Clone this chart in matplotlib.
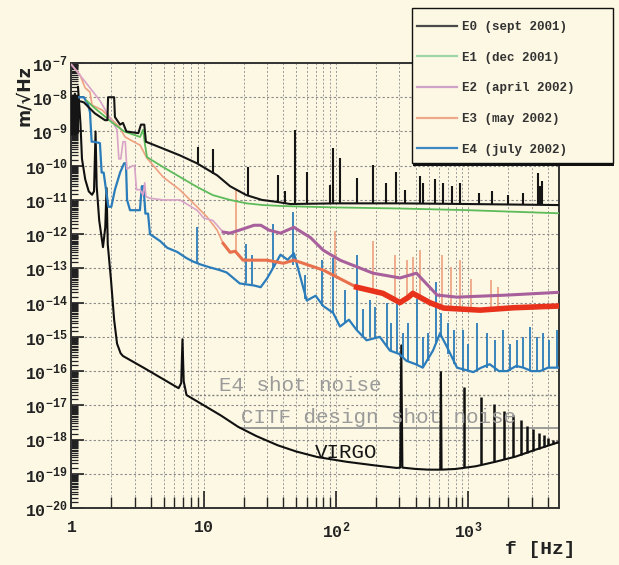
import numpy as np
import matplotlib
matplotlib.use("Agg")
import matplotlib.pyplot as plt
from matplotlib.lines import Line2D
from matplotlib.patches import Rectangle
from matplotlib.ticker import FixedLocator, FixedFormatter, NullFormatter, LogLocator

# ---------------- data (frequency in Hz, level as log10 of m/sqrt(Hz)) ----------------
e0_f = [1.0, 1.01, 1.02, 1.03, 1.04, 1.05, 1.06, 1.07, 1.08, 1.09,
        1.10, 1.11, 1.12, 1.24, 1.50, 1.79, 1.87, 1.89, 2.10, 2.13,
        2.33, 2.45, 2.6, 3.2, 3.35, 3.55, 3.65, 4.92, 6.61, 8.88,
        12.6, 15.8, 21, 27.5, 36, 45, 100, 300, 1000, 4800]
e0_v = [-8.0, -9.1, -7.95, -9.0, -8.0, -9.05, -7.9, -9.1, -8.05, -9.0,
        -7.95, -9.05, -8.1, -8.15, -8.47, -8.67, -8.67, -8.0, -8.0, -8.58,
        -8.8, -8.75, -9.0, -9.05, -8.8, -8.8, -9.3, -9.5, -9.7, -9.93,
        -10.28, -10.6, -10.86, -11.0, -11.06, -11.12, -11.1, -11.1, -11.12, -11.15]
e0_spk_f = [9.0, 11.7, 21.6, 36.3, 41, 49, 60, 90, 95, 107,
            143, 190, 239, 282, 330, 430, 452, 555, 640, 750,
            870, 1200, 1500, 2000, 2600, 3340, 3500, 3600]
e0_spk_lo = [-9.93, -10.25, -10.86, -11.06, -11.1, -11.1, -11.1, -11.1, -11.1, -11.1,
             -11.1, -11.1, -11.1, -11.1, -11.1, -11.1, -11.1, -11.1, -11.1, -11.1,
             -11.1, -11.12, -11.12, -11.13, -11.13, -11.14, -11.14, -11.14]
e0_spk_hi = [-9.46, -9.5, -10.04, -10.28, -10.75, -8.96, -10.19, -10.57, -9.49, -9.78,
             -10.36, -9.98, -10.5, -10.19, -10.7, -10.3, -10.5, -10.4, -10.5, -10.6,
             -10.5, -10.8, -10.75, -10.85, -10.8, -10.2, -10.6, -10.45]

e1_f = [1.3, 1.48, 2.0, 2.5, 3.3, 3.47, 3.6, 3.72, 4.92, 6.61,
        8.88, 11.7, 15.8, 21, 28, 40, 100, 300, 1000, 4800]
e1_v = [-8.1, -8.3, -8.72, -9.0, -9.16, -8.95, -9.4, -9.75, -10.04, -10.33,
        -10.62, -10.86, -11.0, -11.1, -11.15, -11.18, -11.22, -11.25, -11.3, -11.39]

e2_f = [1.0, 1.1, 1.27, 1.64, 1.95, 2.21, 2.28, 2.36, 2.45, 2.55,
        2.62, 2.9, 3.0, 3.1, 3.3, 3.47, 3.58, 3.65, 3.9, 4.92,
        6.61, 8.88, 10.0, 11.7, 14.0, 15.8, 18.7, 24, 27, 31,
        38, 48, 64, 80, 107, 190, 304, 405, 580, 820,
        1960, 4800]
e2_v = [-7.05, -7.25, -7.55, -8.1, -8.6, -8.95, -9.8, -9.8, -9.3, -9.3,
        -10.1, -10.0, -10.0, -10.7, -10.7, -10.86, -10.5, -10.9, -10.95, -11.0,
        -11.0, -11.3, -11.53, -11.6, -11.94, -11.97, -11.88, -11.74, -11.74, -11.88,
        -11.97, -11.8, -12.1, -12.47, -12.76, -13.14, -13.28, -13.14, -13.78, -13.84,
        -13.78, -13.7]

e3_f = [1.0, 1.16, 1.27, 1.38, 1.43, 1.7, 1.95, 2.3, 2.54, 2.95,
        3.3, 3.72, 4.92, 6.61, 8.88, 10.6, 12.6, 14.0, 15.8, 17.3,
        19.8, 30, 40, 48, 80, 143, 226, 304, 350, 380,
        510, 650, 1224, 2200, 4800]
e3_v = [-7.05, -7.35, -7.73, -7.85, -8.23, -8.37, -8.6, -8.87, -9.16, -9.3,
        -9.4, -9.78, -10.33, -10.71, -11.2, -11.5, -11.88, -12.27, -12.53, -12.5,
        -12.76, -12.76, -12.85, -12.76, -13.05, -13.55, -13.73, -14.0, -13.85, -13.73,
        -14.0, -14.16, -14.22, -14.15, -14.1]
e3_spk_f = [17.5, 98, 190, 278, 343, 380, 429, 630, 744, 870, 1055, 1490, 1680]
e3_spk_lo = [-12.5, -13.2, -13.65, -13.9, -13.85, -13.75, -13.9, -14.15, -14.18, -14.2, -14.2, -14.2, -14.2]
e3_spk_hi = [-10.7, -11.9, -12.2, -12.6, -12.76, -12.67, -12.47, -12.6, -12.97, -12.76, -13.3, -13.35, -13.55]

e4_f = [1.0, 1.1, 1.24, 1.33, 1.38, 1.42, 1.47, 1.64, 1.69, 1.75,
        1.9, 2.0, 2.13, 2.33, 2.5, 2.58, 2.63, 2.77, 3.29, 3.4,
        3.5, 3.62, 3.79, 3.92, 4.67, 5.3, 6.3, 7.4, 8.3, 9.35,
        11.1, 13.2, 14.9, 18.7, 24, 26.9, 30, 33.6, 38, 43,
        48, 55, 60, 70, 80, 95, 107, 125, 143, 170,
        214, 255, 300, 340, 400, 452, 540, 610, 690, 820,
        1090, 1250, 1450, 1700, 1960, 2300, 2600, 3000, 3490, 4000,
        4800]
e4_v = [-8.3, -8.0, -8.0, -8.2, -8.44, -9.3, -9.3, -9.34, -10.2, -10.2,
        -11.2, -11.2, -10.7, -10.2, -9.93, -9.93, -11.0, -11.3, -11.3, -10.6,
        -10.6, -11.4, -11.4, -12.0, -12.2, -12.4, -12.52, -12.7, -12.8, -12.88,
        -12.97, -13.05, -13.12, -13.44, -13.5, -13.55, -13.3, -12.97, -12.6, -12.75,
        -12.56, -13.4, -13.94, -13.8, -14.1, -14.3, -14.7, -14.5, -14.8, -15.1,
        -15.0, -15.4, -15.5, -15.7, -15.8, -15.9, -15.4, -14.9, -15.3, -15.9,
        -16.03, -15.9, -15.8, -16.0, -16.0, -15.85, -15.9, -16.0, -16.0, -15.9,
        -15.9]
e4_spk_f = [8.9, 21, 23, 33.6, 47.4, 58, 78.5, 95, 116, 143,
            160, 180, 196, 241, 260, 287, 320, 350, 410, 450,
            495, 570, 625, 700, 780, 910, 1000, 1160, 1380, 1600,
            1820, 2050, 2310, 2600, 2920, 3300, 3670, 4100, 4690]
e4_spk_lo = [-12.85, -13.44, -13.45, -13.0, -12.9, -13.9, -14.1, -14.3, -14.6, -14.8,
             -15.0, -15.0, -15.0, -15.3, -15.4, -15.45, -15.6, -15.7, -15.8, -15.9,
             -15.7, -15.2, -15.0, -15.5, -15.8, -16.0, -16.0, -16.0, -15.9, -16.0,
             -16.0, -16.0, -15.9, -15.9, -16.0, -16.0, -16.0, -15.9, -15.9]
e4_spk_hi = [-11.8, -12.3, -12.6, -11.7, -11.36, -13.2, -12.76, -12.7, -13.64, -12.6,
             -14.2, -13.93, -14.13, -14.0, -14.6, -13.9, -14.9, -14.6, -13.9, -15.0,
             -14.9, -13.4, -14.3, -14.6, -14.8, -14.8, -15.2, -14.6, -14.9, -15.1,
             -14.8, -15.2, -15.1, -15.0, -14.7, -15.0, -14.9, -15.1, -14.8]

virgo_f = [1.12, 1.17, 1.2, 1.27, 1.35, 1.43, 1.48, 1.52, 1.55, 1.62,
           1.73, 1.8, 1.84, 1.88, 1.99, 2.1, 2.21, 2.35, 2.45, 3.5,
           5.0, 6.45, 6.75, 6.9, 7.05, 7.4, 10, 13.5, 18.2, 25,
           36.3, 50, 72, 120, 200, 287, 305, 311, 317, 400,
           500, 613, 620, 627, 800, 1140, 1600, 2270, 3200, 4800]
virgo_v = [-7.7, -8.8, -9.8, -10.4, -10.75, -10.85, -10.75, -9.0, -10.6, -11.6,
           -12.38, -11.8, -10.65, -12.3, -13.35, -14.5, -15.2, -15.48, -15.56, -15.9,
           -16.25, -16.5, -16.35, -15.07, -16.3, -16.7, -17.0, -17.3, -17.63, -17.9,
           -18.17, -18.35, -18.51, -18.65, -18.76, -18.83, -18.82, -15.25, -18.82, -18.86,
           -18.88, -18.88, -16.03, -18.88, -18.86, -18.78, -18.65, -18.5, -18.3, -18.08]
virgo_spk_f = [930, 1240, 1550, 1860, 2170, 2480, 2790, 3100, 3410, 3720, 4030, 4340, 4650]
virgo_spk_lo = [-18.8, -18.72, -18.65, -18.58, -18.5, -18.45, -18.4, -18.33, -18.28, -18.22, -18.17, -18.13, -18.1]
virgo_spk_hi = [-16.46, -16.76, -16.97, -17.18, -17.29, -17.44, -17.6, -17.7, -17.8, -17.88, -17.95, -18.0, -18.05]

e4_shot_f = [8.0, 4800]
e4_shot_v = [-16.7, -16.7]
citf_shot_f = [18.8, 4800]
citf_shot_v = [-17.66, -17.66]

legend_labels = ["E0 (sept 2001)", "E1 (dec 2001)", "E2 (april 2002)",
                 "E3 (may 2002)", "E4 (july 2002)"]
y_exponents = list(range(-20, -6))
x_major = [1, 10, 100, 1000]
x_major_labels = ["1", "10", r"$10^{2}$", r"$10^{3}$"]

# ---------------- style ----------------
BG = "#fcf8e3"
MONO = "Liberation Mono"
plt.rcParams["mathtext.fontset"] = "custom"
plt.rcParams["mathtext.rm"] = MONO + ":bold"
plt.rcParams["mathtext.bf"] = MONO + ":bold"
plt.rcParams["mathtext.default"] = "bf"

C_E0 = "#151515"
C_E1 = "#5dbb5a"
C_E2_LO = "#d9a3c9"
C_E2 = "#a8609c"
C_E3_LO = "#eea081"
C_E3_MID = "#e8704c"
C_E3 = "#e8321c"
C_E4 = "#2b7cbb"

def P(v):
    return np.power(10.0, np.asarray(v, dtype=float))

fig = plt.figure(figsize=(6.19, 5.65), dpi=100, facecolor=BG)
ax = fig.add_axes([0.1155, 0.1009, 0.7868, 0.7876])
ax.set_facecolor(BG)
ax.set_xscale("log")
ax.set_yscale("log")
ax.set_xlim(1, 4800)
ax.set_ylim(1e-20, 1e-7)

# grid
ax.grid(True, which="both", axis="x", linestyle=(0, (2, 2)), color="#9a9a9a", lw=0.7)
ax.grid(True, which="major", axis="y", linestyle=(0, (2, 2)), color="#8a8a8a", lw=0.8)

# shot noise lines
ax.plot(e4_shot_f, P(e4_shot_v), linestyle=(0, (1.5, 1.5)), color="#808080", lw=1.0, zorder=2)
ax.plot(citf_shot_f, P(citf_shot_v), color="#8c8c8c", lw=1.2, zorder=2)

# VIRGO
ax.plot(virgo_f, P(virgo_v), color="#101010", lw=1.5, zorder=3)
ax.vlines(virgo_spk_f, P(virgo_spk_lo), P(virgo_spk_hi), color="#101010", lw=1.8, zorder=3)

# E4
ax.vlines(e4_spk_f, P(e4_spk_lo), P(e4_spk_hi), color=C_E4, lw=1.3, zorder=4)
ax.plot(e4_f, P(e4_v), color=C_E4, lw=1.6, zorder=4)

# E3
f3 = np.asarray(e3_f); v3 = np.asarray(e3_v)
ax.vlines(e3_spk_f, P(e3_spk_lo), P(e3_spk_hi), color=C_E3_LO, lw=1.2, zorder=5)
ax.plot(f3, P(v3), color=C_E3_LO, lw=1.2, zorder=5)
m = f3 >= 14
ax.plot(f3[m], P(v3[m]), color=C_E3_MID, lw=2.2, zorder=5)
m = f3 >= 140
ax.plot(f3[m], P(v3[m]), color=C_E3, lw=4.0, zorder=5)

# E2
f2 = np.asarray(e2_f); v2 = np.asarray(e2_v)
ax.plot(f2, P(v2), color=C_E2_LO, lw=1.2, zorder=6)
m = f2 >= 14
ax.plot(f2[m], P(v2[m]), color=C_E2, lw=2.2, zorder=6)

# E1
ax.plot(e1_f, P(e1_v), color=C_E1, lw=1.3, zorder=7)

# E0
ax.plot(e0_f, P(e0_v), color=C_E0, lw=1.5, zorder=8)
ax.vlines(e0_spk_f, P(e0_spk_lo), P(e0_spk_hi), color=C_E0, lw=1.5, zorder=8)

# ticks
ax.yaxis.set_major_locator(FixedLocator([10.0 ** e for e in y_exponents]))
ax.yaxis.set_major_formatter(FixedFormatter([r"$10^{%d}$" % e for e in y_exponents]))
ax.yaxis.set_minor_locator(FixedLocator([s * 10.0 ** e for e in range(-20, -7)
                                         for s in np.arange(1.5, 10.0, 0.5)]))
ax.yaxis.set_minor_formatter(NullFormatter())
ax.xaxis.set_major_locator(FixedLocator(x_major))
ax.xaxis.set_major_formatter(FixedFormatter(x_major_labels))
ax.xaxis.set_minor_locator(LogLocator(base=10, subs=np.arange(2, 10), numticks=20))
ax.xaxis.set_minor_formatter(NullFormatter())
ax.tick_params(axis="both", which="both", direction="in", top=False, right=False,
               colors="#222222", labelsize=12)
ax.tick_params(axis="y", which="major", length=9, width=1.2, pad=3)
ax.tick_params(axis="y", which="minor", length=5, width=0.9)
ax.tick_params(axis="x", which="major", length=12, width=1.2, pad=9)
ax.tick_params(axis="x", which="minor", length=8, width=1.0)
for lab in ax.get_xticklabels() + ax.get_yticklabels():
    lab.set_fontfamily(MONO)
    lab.set_fontweight("bold")
for sp in ax.spines.values():
    sp.set_linewidth(1.4)
    sp.set_color("#333333")

# annotations
ax.text(13.0, 10 ** -16.42, "E4 shot noise", color="#9a9a9a", fontsize=15,
        family=MONO, ha="left", va="center", zorder=9)
ax.text(19.1, 10 ** -17.37, "CITF design shot noise", color="#9a9a9a", fontsize=15,
        family=MONO, ha="left", va="center", zorder=9)
ax.text(69, 10 ** -18.37, "VIRGO", color="#151515", fontsize=15,
        family=MONO, ha="left", va="center", zorder=9)

fig.text(24 / 619, 1 - 96 / 565, "m/\u221aHz", rotation=90, ha="center", va="center",
         fontsize=12.5, fontweight="bold", color="#222222")
fig.text(540 / 619, 1 - 550 / 565, "f [Hz]", family=MONO, fontweight="bold",
         fontsize=14, ha="center", va="center", color="#222222")

# legend box (with drop shadow) and legend
shadow = Rectangle((413 / 619, 1 - 166 / 565), 201 / 619, 155 / 565,
                   transform=fig.transFigure, facecolor="#111111", edgecolor="none", zorder=2)
box = Rectangle((412 / 619, 1 - 163 / 565), 201 / 619, 155 / 565,
                transform=fig.transFigure, facecolor=BG, edgecolor="#111111", lw=1.0, zorder=3)
fig.add_artist(shadow)
fig.add_artist(box)
handle_colors = ["#4a4a4a", "#9fd6a8", "#cfa3c8", "#f0a88a", "#3f86c4"]
handles = [Line2D([0], [0], color=c, lw=1.6) for c in handle_colors]
leg = fig.legend(handles, legend_labels, loc="upper left",
                 bbox_to_anchor=(417 / 619, 1 - 21 / 565), bbox_transform=fig.transFigure,
                 borderaxespad=0, borderpad=0, frameon=False,
                 prop={"family": MONO, "weight": "bold", "size": 9},
                 labelcolor="#333333", handlelength=3.2, handletextpad=0.4,
                 labelspacing=1.49)
leg.set_zorder(5)

fig.savefig("out.png", dpi=100, facecolor=BG)
